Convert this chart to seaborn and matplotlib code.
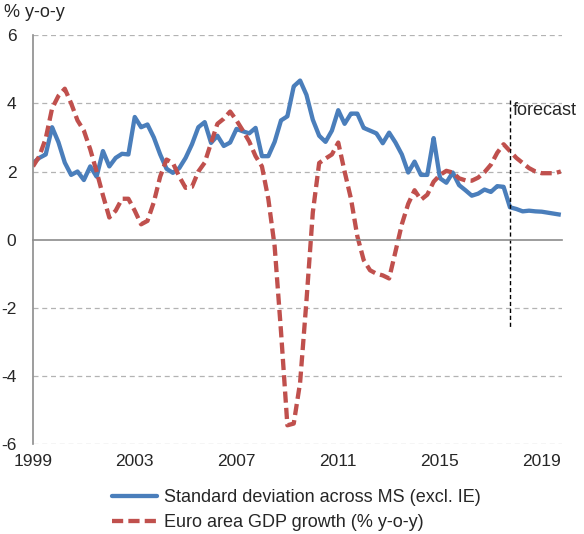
import numpy as np
import pandas as pd
import matplotlib
matplotlib.use("Agg")
import matplotlib.pyplot as plt
import seaborn as sns

# Quarterly data, 1999Q1 - 2019Q4
start_year = 1999
n_quarters = 84

std_dev = [
    2.25, 2.4, 2.5, 3.3, 2.86, 2.26, 1.9, 2.0, 1.75, 2.15, 1.85, 2.6,
    2.15, 2.4, 2.52, 2.5, 3.6, 3.3, 3.38, 3.0, 2.5, 2.08, 1.96, 2.1,
    2.4, 2.8, 3.3, 3.45, 2.84, 3.05, 2.75, 2.85, 3.25, 3.18, 3.12, 3.28,
    2.45, 2.45, 2.87, 3.5, 3.62, 4.5, 4.67, 4.25, 3.52, 3.05, 2.87, 3.2,
    3.8, 3.4, 3.7, 3.7, 3.28, 3.2, 3.12, 2.83, 3.14, 2.85, 2.5, 1.97,
    2.29, 1.9, 1.9, 2.98, 1.8, 1.67, 1.97, 1.6, 1.45, 1.29, 1.35, 1.47,
    1.4, 1.57, 1.55, 0.95, 0.9, 0.83, 0.85, 0.83, 0.82, 0.79, 0.76, 0.73,
]

gdp_growth = [
    2.15, 2.45, 2.97, 3.85, 4.22, 4.43, 4.0, 3.5, 3.2, 2.65, 2.0, 1.3,
    0.65, 0.85, 1.2, 1.2, 0.85, 0.45, 0.55, 1.1, 1.85, 2.35, 2.25, 1.85,
    1.52, 1.55, 2.0, 2.26, 2.84, 3.4, 3.55, 3.76, 3.5, 3.2, 2.88, 2.45,
    2.15, 1.2, -0.2, -2.7, -5.45, -5.4, -4.2, -1.8, 0.8, 2.25, 2.38, 2.5,
    2.85, 2.0, 1.2, 0.1, -0.6, -0.9, -1.0, -1.05, -1.14, -0.35, 0.45, 1.05,
    1.45, 1.17, 1.32, 1.7, 1.9, 2.02, 1.97, 1.8, 1.74, 1.73, 1.82, 1.98,
    2.2, 2.55, 2.8, 2.6, 2.4, 2.25, 2.1, 2.0, 1.95, 1.95, 1.95, 2.0,
]

year_labels = [1999, 2003, 2007, 2011, 2015, 2019]
forecast_start = 2017.75

labels = ["Standard deviation across MS (excl. IE)", "Euro area GDP growth (% y-o-y)"]

time = start_year + np.arange(n_quarters) / 4
df = pd.DataFrame({
    "time": np.concatenate([time, time]),
    "value": std_dev + gdp_growth,
    "series": [labels[0]] * n_quarters + [labels[1]] * n_quarters,
})

blue = "#4a7ebb"
red = "#c0504d"
red_dash = (2.6, 1.2)

sns.set_style("white")
plt.rcParams["font.family"] = ["Liberation Sans", "DejaVu Sans"]

fig = plt.figure(figsize=(5.84, 5.34), dpi=100)
ax = fig.add_axes([0.0565, 0.1685, 0.906, 0.7655])

sns.lineplot(
    data=df, x="time", y="value", hue="series", style="series",
    palette=[blue, red],
    dashes=[(1, 0), red_dash],
    linewidth=3.1, ax=ax, legend=False,
)

# gridlines
for v in [-6, -4, -2, 2, 4, 6]:
    ax.axhline(v, color="#b3b3b3", linestyle=(0, (4, 3)), linewidth=0.9, zorder=0)

ax.set_xlim(start_year, start_year + 20.8)
ax.set_ylim(-6, 6)
ax.set_yticks(np.arange(-6, 7, 2))
ax.set_yticklabels([str(v) for v in range(-6, 7, 2)], fontsize=12.5)
ax.set_xticks(np.arange(start_year, start_year + 21))
ax.set_xticklabels([])
ax.tick_params(axis="both", direction="out", length=4, color="#8c8c8c", width=1)
ax.tick_params(axis="y", pad=8)

for s in ["top", "right"]:
    ax.spines[s].set_visible(False)
ax.spines["bottom"].set_position(("data", 0))
ax.spines["bottom"].set_color("#8c8c8c")
ax.spines["left"].set_color("#8c8c8c")
ax.spines["bottom"].set_linewidth(1.2)
ax.spines["left"].set_linewidth(1.2)
ax.set_xlabel("")
ax.set_ylabel("")

for yr in year_labels:
    ax.text(yr, -0.025, str(yr), transform=ax.get_xaxis_transform(),
            ha="center", va="top", fontsize=12.5)

# forecast marker
ax.plot([forecast_start, forecast_start], [4.1, -2.6], color="black",
        linestyle=(0, (3, 2)), linewidth=1)
ax.text(forecast_start + 0.12, 3.8, "forecast", fontsize=13, ha="left", va="center")

fig.text(0.007, 0.977, "% y-o-y", fontsize=13, ha="left", va="center")

handles = [
    plt.Line2D([], [], color=blue, linewidth=3.1),
    plt.Line2D([], [], color=red, linewidth=3.1, linestyle=(0, red_dash)),
]
fig.legend(handles, labels, loc="upper center", bbox_to_anchor=(0.508, 0.098), frameon=False,
           fontsize=13, handlelength=2.5, handletextpad=0.4, labelspacing=0.45,
           borderaxespad=0)

fig.savefig("out.png", dpi=100)
